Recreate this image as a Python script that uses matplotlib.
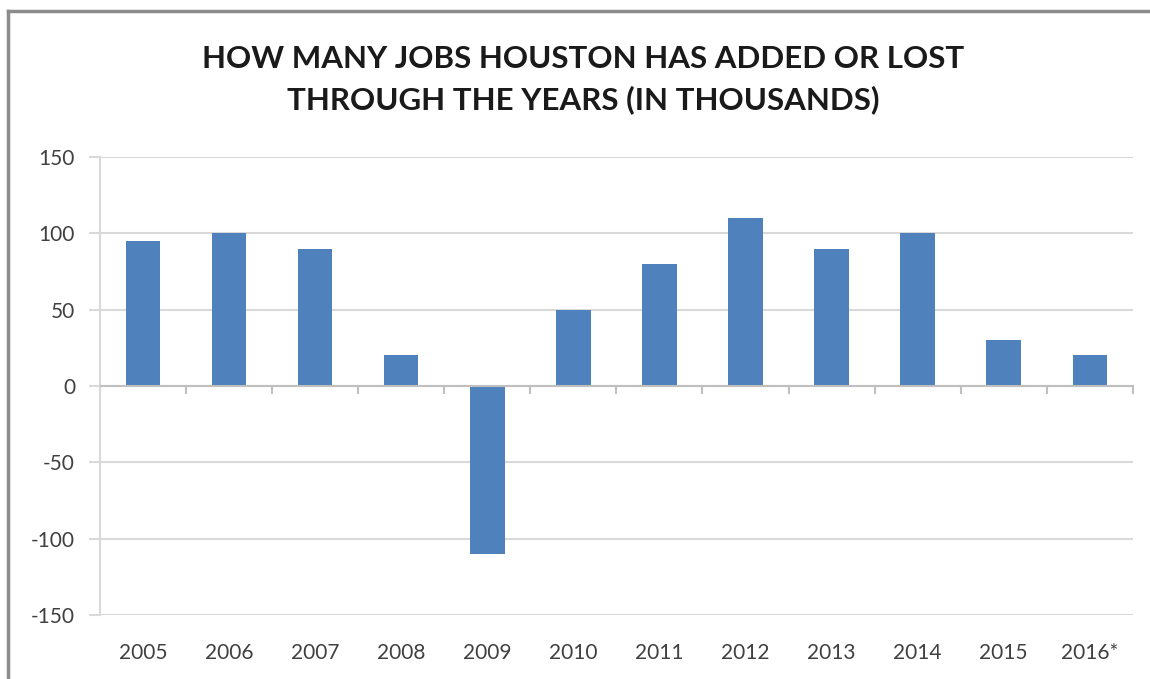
import matplotlib.pyplot as plt
import numpy as np

years = ['2005', '2006', '2007', '2008', '2009', '2010',
         '2011', '2012', '2013', '2014', '2015', '2016*']
jobs = [95, 100, 90, 20, -110, 50, 80, 110, 90, 100, 30, 20]

plt.rcParams['font.family'] = ['Lato', 'DejaVu Sans']
plt.rcParams['axes.unicode_minus'] = False

fig = plt.figure(figsize=(11.5, 6.79), dpi=100)
ax = fig.add_axes([0.087, 0.0943, 0.898, 0.6745])

x = np.arange(len(years))
ax.bar(x, jobs, width=0.4, color='#4f81bd', zorder=3)

ax.set_xlim(-0.5, len(years) - 0.5)
ax.set_ylim(-150, 150)
ax.set_yticks(np.arange(-150, 151, 50))
ax.yaxis.grid(True, color='#d9d9d9', lw=1.5, zorder=0)
ax.tick_params(axis='y', length=8, color='#d9d9d9', width=1.5,
               labelsize=15, labelcolor='#404040', pad=10)

# category axis sits at zero, labels stay at the bottom
for s in ['top', 'right', 'bottom']:
    ax.spines[s].set_visible(False)
ax.spines['left'].set_color('#d9d9d9')
ax.spines['left'].set_linewidth(1.5)
ax.axhline(0, color='#bfbfbf', lw=1.5, zorder=4)
ax.set_xticks(x)
ax.set_xticklabels(years)
ax.tick_params(axis='x', length=0, labelsize=15, labelcolor='#404040', pad=20)
for b in np.arange(0.5, len(years), 1.0):
    ax.plot([b, b], [0, -4.5], color='#bfbfbf', lw=1.5, clip_on=False, zorder=4)

fig.text(0.507, 0.883, 'HOW MANY JOBS HOUSTON HAS ADDED OR LOST\nTHROUGH THE YEARS (IN THOUSANDS)',
         ha='center', va='center', fontsize=22.5, fontweight='bold',
         color='#1a1a1a', linespacing=1.5)

# outer frame of the chart (runs off the right and bottom)
fig.add_artist(plt.Line2D([8/1150, 8/1150], [0, 1 - 11/679], color='#8c8c8c', lw=2.5))
fig.add_artist(plt.Line2D([8/1150, 1], [1 - 11/679, 1 - 11/679], color='#8c8c8c', lw=2.5))

fig.savefig('out.png', dpi=100)
